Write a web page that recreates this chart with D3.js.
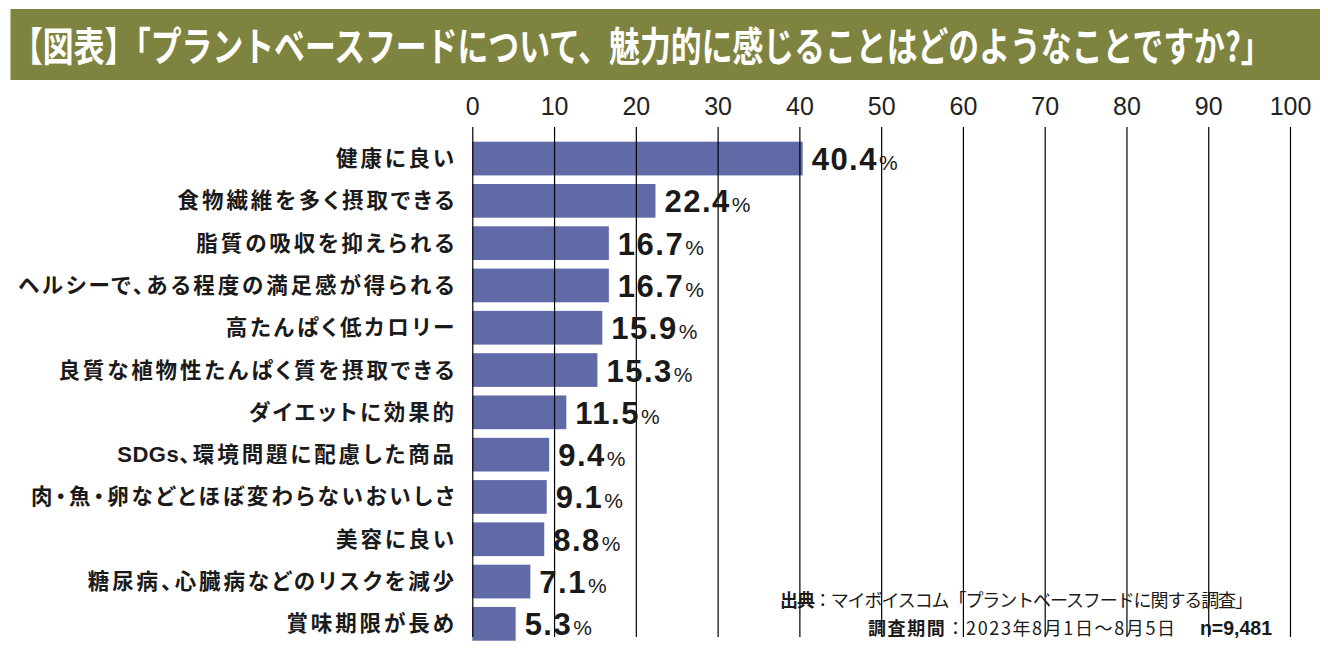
<!DOCTYPE html>
<html><head><meta charset="utf-8">
<script src="https://cdn.jsdelivr.net/npm/d3@7"></script>
<style>html,body{margin:0;padding:0;background:#fff;}</style>
</head><body>
<svg id="c" width="1328" height="659"></svg>
<script>
const title = "【図表】「プラントベースフードについて、魅力的に感じることはどのようなことですか?」";
const categories = [
  "健康に良い",
  "食物繊維を多く摂取できる",
  "脂質の吸収を抑えられる",
  "ヘルシーで、ある程度の満足感が得られる",
  "高たんぱく低カロリー",
  "良質な植物性たんぱく質を摂取できる",
  "ダイエットに効果的",
  "SDGs、環境問題に配慮した商品",
  "肉・魚・卵などとほぼ変わらないおいしさ",
  "美容に良い",
  "糖尿病、心臓病などのリスクを減少",
  "賞味期限が長め"
];
const values = [40.4, 22.4, 16.7, 16.7, 15.9, 15.3, 11.5, 9.4, 9.1, 8.8, 7.1, 5.3];
const ticks = [0, 10, 20, 30, 40, 50, 60, 70, 80, 90, 100];
const sourceLine1 = ["出典", "：マイボイスコム「プラントベースフードに関する調査」"];
const sourceLine2 = ["調査期間", "：2023年8月1日～8月5日"];
const sampleSize = "n=9,481";

const svg = d3.select("#c");
const JP = "'Noto Sans CJK JP','Noto Sans JP',sans-serif";
const LAT = "'Liberation Sans',Arial,Helvetica,sans-serif";

// title banner
svg.append("rect").attr("x", 10.5).attr("y", 9).attr("width", 1309.5).attr("height", 71).attr("fill", "#7e843f");
const tg = svg.append("g");
const tt = tg.append("text").attr("x", 0).attr("y", 0)
  .attr("font-family", JP).attr("font-weight", 700).attr("font-size", 40)
  .attr("fill", "#fff")
  .text(title);
const tw = tt.node().getComputedTextLength();
tg.attr("transform", `translate(12,61) scale(${1260 / tw},1)`);

const x = d3.scaleLinear().domain([0, 100]).range([472.3, 1290]);
const y = d3.scaleBand().domain(categories).range([137.4, 645]).paddingInner(0.203).paddingOuter(0.1015);

// bars
svg.append("g").selectAll("rect").data(categories).join("rect")
  .attr("x", x(0)).attr("y", d => y(d))
  .attr("width", (d, i) => x(values[i]) - x(0))
  .attr("height", y.bandwidth())
  .attr("fill", "#5f6aa6");

// axis with gridlines
const axis = d3.axisTop(x).tickValues(ticks).tickSize(0).tickPadding(12).tickFormat(d3.format("d"));
const ag = svg.append("g").attr("transform", "translate(0,127)").call(axis);
ag.select(".domain").remove();
ag.selectAll(".tick text").attr("font-family", LAT).attr("font-size", 25).attr("fill", "#222").attr("dy", 0);
ag.selectAll(".tick").append("line").attr("x1", 0).attr("x2", 0).attr("y1", 0).attr("y2", 637 - 127)
  .attr("stroke", "#000").attr("stroke-width", 1.2);

// category labels (latin runs without extra spacing)
const splitRuns = s => s.match(/[A-Za-z0-9]+|[^A-Za-z0-9]+/g);
const cl = svg.append("g").selectAll("text").data(categories).join("text")
  .attr("x", 457).attr("y", d => y(d) + y.bandwidth() / 2 + 7.5)
  .attr("text-anchor", "end")
  .attr("font-family", JP).attr("font-weight", 700).attr("font-size", 21.5)
  .style("font-feature-settings", "'palt' 1")
  .attr("fill", "#1a1a1a");
cl.selectAll("tspan").data(d => splitRuns(d)).join("tspan")
  .attr("letter-spacing", r => /^[A-Za-z0-9]+$/.test(r) ? 0.5 : 2.9)
  .attr("font-family", r => /^[A-Za-z0-9]+$/.test(r) ? LAT : null)
  .attr("font-size", r => /^[A-Za-z0-9]+$/.test(r) ? 22 : null)
  .text(r => r);

// value labels
const vl = svg.append("g").selectAll("text").data(categories).join("text")
  .attr("x", (d, i) => x(values[i]) + 9)
  .attr("y", d => y(d) + y.bandwidth() / 2 + 11.5)
  .attr("font-family", LAT).attr("fill", "#1a1a1a");
vl.append("tspan").attr("font-weight", 700).attr("font-size", 31).attr("letter-spacing", 1.5)
  .text((d, i) => values[i].toFixed(1));
vl.append("tspan").attr("font-size", 21).attr("dx", 1).text("%");

// source
const s1 = svg.append("text").attr("x", 780).attr("y", 607)
  .attr("font-family", JP).attr("font-size", 18).attr("fill", "#1a1a1a")
  .attr("textLength", 473).attr("lengthAdjust", "spacing");
s1.append("tspan").attr("font-weight", 700).text(sourceLine1[0]);
s1.append("tspan").text(sourceLine1[1]);
const s2 = svg.append("text").attr("x", 868).attr("y", 635)
  .attr("font-family", JP).attr("font-size", 18).attr("fill", "#1a1a1a")
  .attr("textLength", 307).attr("lengthAdjust", "spacing");
s2.append("tspan").attr("font-weight", 700).text(sourceLine2[0]);
s2.append("tspan").text(sourceLine2[1]);
svg.append("text").attr("x", 1272).attr("y", 635).attr("text-anchor", "end")
  .attr("font-family", LAT).attr("font-weight", 700).attr("font-size", 19.5).attr("fill", "#1a1a1a")
  .text(sampleSize);
</script>
</body></html>
